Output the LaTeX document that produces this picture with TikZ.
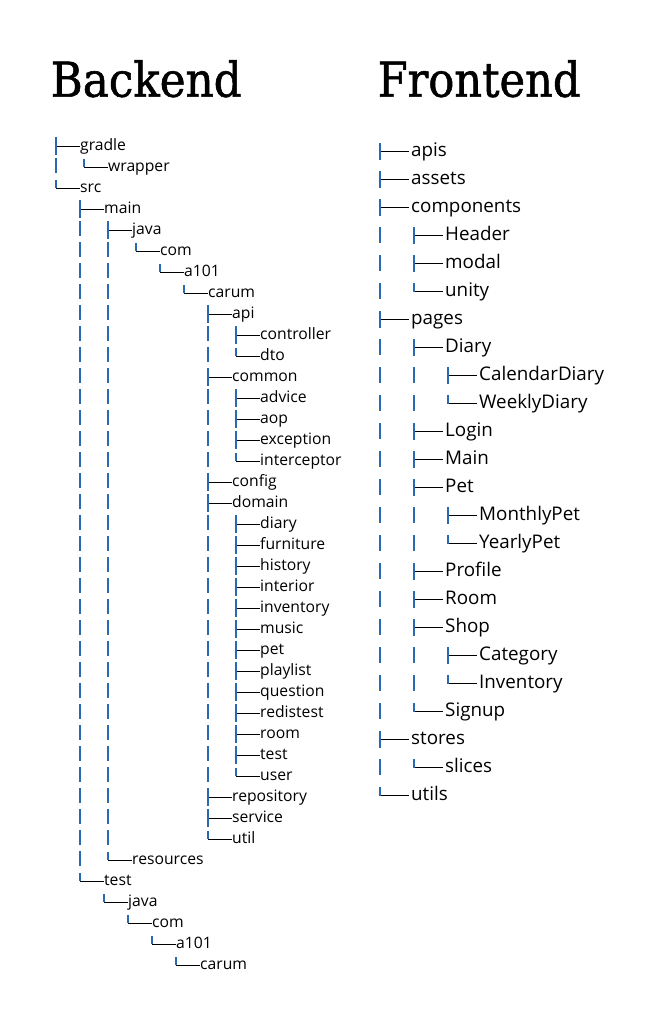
\documentclass[tikz,border=0pt]{standalone}
\usepackage{fontspec}
\usepackage{graphicx}
\newfontfamily\treefont{Open Sans}
\newfontfamily\titlefont{DejaVu Serif}[FakeBold=1.2]
\definecolor{barcol}{RGB}{40,105,175}
\tikzset{
  btext/.style={anchor=base west, inner sep=0pt, font=\treefont\fontsize{15.7}{18}\selectfont},
  ftext/.style={anchor=base west, inner sep=0pt, font=\treefont\fontsize{18.8}{22}\selectfont},
  bh/.style={draw=black, line width=1pt},
  bv/.style={draw=barcol, line width=1.2pt},
  fh/.style={draw=black, line width=1.1pt},
  fv/.style={draw=barcol, line width=1.4pt},
  titlestyle/.style={anchor=base west, inner sep=0pt},
}
% backend: h = 146 + 21 i, text at bar+24
\newcommand\BT[4]{%
  \pgfmathsetmacro\hy{146+21*#3}%
  \node[btext] (#1) at (#2+24,\hy+4) {#4};%
  \coordinate (#1-j) at (#2,\hy);%
  \draw[bh] (#1-j) -- (#1-j -| #1.west);%
  \draw[bv] (#2,\hy-9) -- (#2,\hy+8.5);%
}
\newcommand\BL[4]{%
  \pgfmathsetmacro\hy{146+21*#3}%
  \node[btext] (#1) at (#2+24,\hy+4) {#4};%
  \coordinate (#1-j) at (#2,\hy);%
  \draw[bh] (#1-j) -- (#1-j -| #1.west);%
  \draw[bv] (#2,\hy-8) -- (#1-j);%
}
\newcommand\BV[2]{%
  \pgfmathsetmacro\hy{146+21*#2}%
  \draw[bv] (#1,\hy-9) -- (#1,\hy+6);%
}
% frontend: h = 151.5 + 28 i, text at bar+31
\newcommand\FT[4]{%
  \pgfmathsetmacro\hy{151.5+28*#3}%
  \node[ftext] (#1) at (#2+31,\hy+5) {#4};%
  \coordinate (#1-j) at (#2,\hy);%
  \draw[fh] (#1-j) -- ([xshift=-2pt]#1-j -| #1.west);%
  \draw[fv] (#2,\hy-8.5) -- (#2,\hy+8.5);%
}
\newcommand\FL[4]{%
  \pgfmathsetmacro\hy{151.5+28*#3}%
  \node[ftext] (#1) at (#2+31,\hy+5) {#4};%
  \coordinate (#1-j) at (#2,\hy);%
  \draw[fh] (#1-j) -- ([xshift=-2pt]#1-j -| #1.west);%
  \draw[fv] (#2,\hy-8.5) -- (#1-j);%
}
\newcommand\FV[2]{%
  \pgfmathsetmacro\hy{151.5+28*#2}%
  \draw[fv] (#1,\hy-8.5) -- (#1,\hy+7);%
}
\begin{document}
\begin{tikzpicture}[x=1pt,y=-1pt]
\fill[white] (0,0) rectangle (656,1018);
\useasboundingbox (0,0) rectangle (656,1018);

% titles
\node[titlestyle] (backend) at (50.5,96.7) {\scalebox{0.91}[1]{\titlefont\fontsize{48}{48}\selectfont Backend}};
\node[titlestyle] (frontend) at (377.5,96.7) {\scalebox{0.90}[1]{\titlefont\fontsize{48}{48}\selectfont Frontend}};

% ---------------- Backend ----------------
\BT{gradle}{56}{0}{gradle}
\BV{56}{1}
\BL{wrapper}{84}{1}{wrapper}
\BL{src}{56}{2}{src}
\BT{main}{80}{3}{main}
\foreach \i in {4,...,34} {\BV{80}{\i}}
\BT{java}{108}{4}{java}
\foreach \i in {5,...,33} {\BV{108}{\i}}
\BL{com}{136}{5}{com}
\BL{a101}{160}{6}{a101}
\BL{carum}{184}{7}{carum}
\foreach \i in {9,10,12,13,14,15,18,19,...,30} {\BV{208}{\i}}
\BT{api}{208}{8}{api}
\BT{controller}{236}{9}{controller}
\BL{dto}{236}{10}{dto}
\BT{common}{208}{11}{common}
\BT{advice}{236}{12}{advice}
\BT{aop}{236}{13}{aop}
\BT{exception}{236}{14}{exception}
\BL{interceptor}{236}{15}{interceptor}
\BT{config}{208}{16}{config}
\BT{domain}{208}{17}{domain}
\BT{diary}{236}{18}{diary}
\BT{furniture}{236}{19}{furniture}
\BT{history}{236}{20}{history}
\BT{interior}{236}{21}{interior}
\BT{inventory}{236}{22}{inventory}
\BT{music}{236}{23}{music}
\BT{pet}{236}{24}{pet}
\BT{playlist}{236}{25}{playlist}
\BT{question}{236}{26}{question}
\BT{redistest}{236}{27}{redistest}
\BT{room}{236}{28}{room}
\BT{dtest}{236}{29}{test}
\BL{user}{236}{30}{user}
\BT{repository}{208}{31}{repository}
\BT{service}{208}{32}{service}
\BL{util}{208}{33}{util}
\BL{resources}{108}{34}{resources}
\BL{test}{80}{35}{test}
\BL{tjava}{104}{36}{java}
\BL{tcom}{128}{37}{com}
\BL{ta101}{152}{38}{a101}
\BL{tcarum}{176}{39}{carum}

% ---------------- Frontend ----------------
\FT{apis}{380}{0}{apis}
\FT{assets}{380}{1}{assets}
\FT{components}{380}{2}{components}
\foreach \i in {3,4,5,7,8,...,20,22} {\FV{380}{\i}}
\FT{Header}{414}{3}{Header}
\FT{modal}{414}{4}{modal}
\FL{unity}{414}{5}{unity}
\FT{pages}{380}{6}{pages}
\FT{Diary}{414}{7}{Diary}
\foreach \i in {8,9,13,14,18,19} {\FV{414}{\i}}
\FT{CalendarDiary}{448}{8}{CalendarDiary}
\FL{WeeklyDiary}{448}{9}{WeeklyDiary}
\FT{Login}{414}{10}{Login}
\FT{Main}{414}{11}{Main}
\FT{Pet}{414}{12}{Pet}
\FT{MonthlyPet}{448}{13}{MonthlyPet}
\FL{YearlyPet}{448}{14}{YearlyPet}
\FT{Profile}{414}{15}{Profile}
\FT{Room}{414}{16}{Room}
\FT{Shop}{414}{17}{Shop}
\FT{Category}{448}{18}{Category}
\FL{Inventory}{448}{19}{Inventory}
\FL{Signup}{414}{20}{Signup}
\FT{stores}{380}{21}{stores}
\FL{slices}{414}{22}{slices}
\FL{utils}{380}{23}{utils}
\end{tikzpicture}
\end{document}
